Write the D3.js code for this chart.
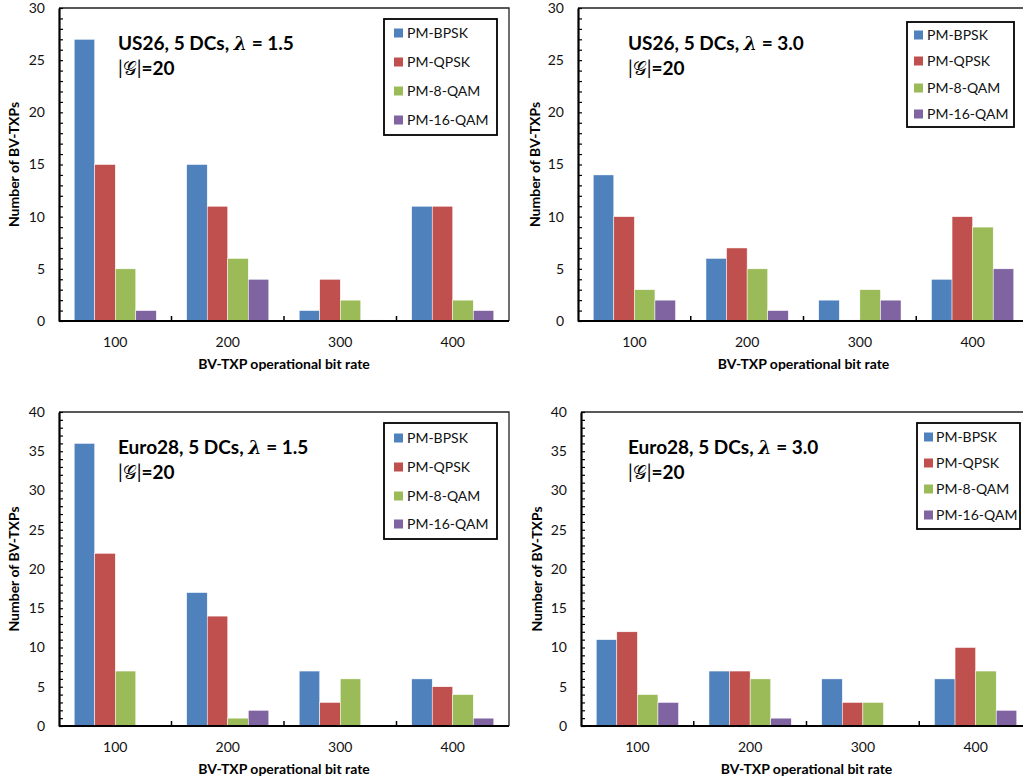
<!DOCTYPE html>
<html>
<head>
<meta charset="utf-8">
<script src="https://cdn.jsdelivr.net/npm/d3@7"></script>
<style>
  body { margin: 0; background: #fff; }
  text { font-family: Lato, "Open Sans", sans-serif; }
</style>
</head>
<body>
<script>
// categories and series
const bitRates = ["100", "200", "300", "400"];
const formats = ["PM-BPSK", "PM-QPSK", "PM-8-QAM", "PM-16-QAM"];
const colors = ["#4F81BD", "#C0504D", "#9BBB59", "#8064A2"];

// values per format, across bitRates
const us26L15 = [
  [27, 15, 1, 11],
  [15, 11, 4, 11],
  [5, 6, 2, 2],
  [1, 4, 0.1, 1]
];
const us26L30 = [
  [14, 6, 2, 4],
  [10, 7, 0.1, 10],
  [3, 5, 3, 9],
  [2, 1, 2, 5]
];
const euro28L15 = [
  [36, 17, 7, 6],
  [22, 14, 3, 5],
  [7, 1, 6, 4],
  [0, 2, 0, 1]
];
const euro28L30 = [
  [11, 7, 6, 6],
  [12, 7, 3, 10],
  [4, 6, 3, 7],
  [3, 1, 0, 2]
];

const panels = [
  {net: "US26", lambda: "1.5", values: us26L15, yMax: 30, left: 59, top: 8, w: 450, h: 313,
   titleX: 59, yLabelX: 15,
   legend: {x: 384, y: 19, w: 113, h: 116, sw: 10, tx: 23, rows: [33, 62, 91, 120]}},
  {net: "US26", lambda: "3.0", values: us26L30, yMax: 30, left: 578, top: 8, w: 451, h: 313,
   titleX: 50, yLabelX: 536,
   legend: {x: 907, y: 22, w: 107, h: 105, sw: 7, tx: 20, rows: [35, 61, 88, 114]}},
  {net: "Euro28", lambda: "1.5", values: euro28L15, yMax: 40, left: 59, top: 412, w: 450, h: 314,
   titleX: 59, yLabelX: 15,
   legend: {x: 384, y: 423, w: 113, h: 116, sw: 10, tx: 23, rows: [438, 467, 496, 524]}},
  {net: "Euro28", lambda: "3.0", values: euro28L30, yMax: 40, left: 581, top: 412, w: 451, h: 314,
   titleX: 47, yLabelX: 538,
   legend: {x: 917, y: 423, w: 103, h: 106, sw: 7, tx: 19, rows: [437, 463, 489, 515]}}
];

const svg = d3.select("body").append("svg")
  .attr("width", 1023)
  .attr("height", 782);

panels.forEach(p => {
  const g = svg.append("g").attr("transform", `translate(${p.left},${p.top})`);

  const x0 = d3.scaleBand().domain(bitRates).range([0, p.w]);
  const x1 = d3.scaleBand().domain(formats).range([0, x0.bandwidth()]).paddingOuter(0.74);
  const y = d3.scaleLinear().domain([0, p.yMax]).range([p.h, 0]);

  // plot frame (top, right)
  g.append("path")
    .attr("d", `M0,0H${p.w}V${p.h}`)
    .attr("fill", "none")
    .attr("stroke", "#222")
    .attr("stroke-width", 1.3);

  // bars
  formats.forEach((f, si) => {
    g.selectAll(null)
      .data(p.values[si])
      .enter()
      .append("rect")
      .attr("x", (d, i) => x0(bitRates[i]) + x1(f))
      .attr("y", d => y(d))
      .attr("width", x1.bandwidth())
      .attr("height", d => y(0) - y(d))
      .attr("fill", colors[si])
      .attr("stroke", d => d > 0 ? "#fff" : "none")
      .attr("stroke-width", 0.5);
  });

  // y axis with ticks every unit, labels every 5
  const yAxis = d3.axisLeft(y)
    .tickValues(d3.range(0, p.yMax + 1))
    .tickSizeInner(-4)
    .tickSizeOuter(0)
    .tickPadding(14)
    .tickFormat(d => d % 5 === 0 ? d : "");
  const ya = g.append("g").call(yAxis);
  ya.select(".domain").attr("stroke-width", 2.2);
  ya.selectAll(".tick line").attr("stroke-width", 1.2);
  ya.selectAll("text").style("font-size", "14px").attr("fill", "#111");

  // x axis: baseline plus separators between categories
  const xa = g.append("g").attr("transform", `translate(0,${p.h})`);
  xa.append("line")
    .attr("x1", 0).attr("x2", p.w)
    .attr("stroke", "#000").attr("stroke-width", 2.2);
  xa.selectAll(".sep")
    .data(bitRates.slice(1))
    .enter()
    .append("line")
    .attr("x1", d => x0(d)).attr("x2", d => x0(d))
    .attr("y1", 0).attr("y2", -5)
    .attr("stroke", "#000").attr("stroke-width", 1.5);
  xa.selectAll(".lbl")
    .data(bitRates)
    .enter()
    .append("text")
    .attr("x", d => x0(d) + x0.bandwidth() / 2)
    .attr("y", 26)
    .attr("text-anchor", "middle")
    .style("font-size", "14px")
    .attr("fill", "#111")
    .text(d => d);

  // axis titles
  g.append("text")
    .attr("x", p.w / 2)
    .attr("y", p.h + 48)
    .attr("text-anchor", "middle")
    .style("font-size", "14px")
    .style("font-weight", "bold")
    .text("BV-TXP operational bit rate");
  g.append("text")
    .attr("transform", `translate(${p.yLabelX - p.left + 4},${p.h / 2}) rotate(-90)`)
    .attr("text-anchor", "middle")
    .style("font-size", "14px")
    .style("font-weight", "bold")
    .text("Number of BV-TXPs");

  // in-plot title
  const t = g.append("text")
    .attr("x", p.titleX)
    .attr("y", 42)
    .style("font-size", "19px")
    .style("font-weight", "bold");
  t.append("tspan").text(`${p.net}, 5 DCs, `);
  t.append("tspan").style("font-style", "italic").style("font-family", "'DejaVu Serif', serif").text("λ");
  t.append("tspan").text(` = ${p.lambda}`);
  const t2 = g.append("text")
    .attr("x", p.titleX)
    .attr("y", 67)
    .style("font-size", "19px")
    .style("font-weight", "bold");
  t2.append("tspan").style("font-weight", "normal").text("|");
  t2.append("tspan").style("font-weight", "normal").style("font-family", "'DejaVu Serif', 'Noto Sans', serif").text("𝒢");
  t2.append("tspan").style("font-weight", "normal").text("|");
  t2.append("tspan").text("=20");

  // legend
  const L = p.legend;
  svg.append("rect")
    .attr("x", L.x).attr("y", L.y)
    .attr("width", L.w).attr("height", L.h)
    .attr("fill", "#fff")
    .attr("stroke", "#000")
    .attr("stroke-width", 1.8);
  formats.forEach((f, i) => {
    svg.append("rect")
      .attr("x", L.x + L.sw).attr("y", L.rows[i] - 4.5)
      .attr("width", 9).attr("height", 9)
      .attr("fill", colors[i]);
    svg.append("text")
      .attr("x", L.x + L.tx).attr("y", L.rows[i] + 5)
      .style("font-size", "14px")
      .attr("fill", "#111")
      .text(f);
  });
});
</script>
</body>
</html>
